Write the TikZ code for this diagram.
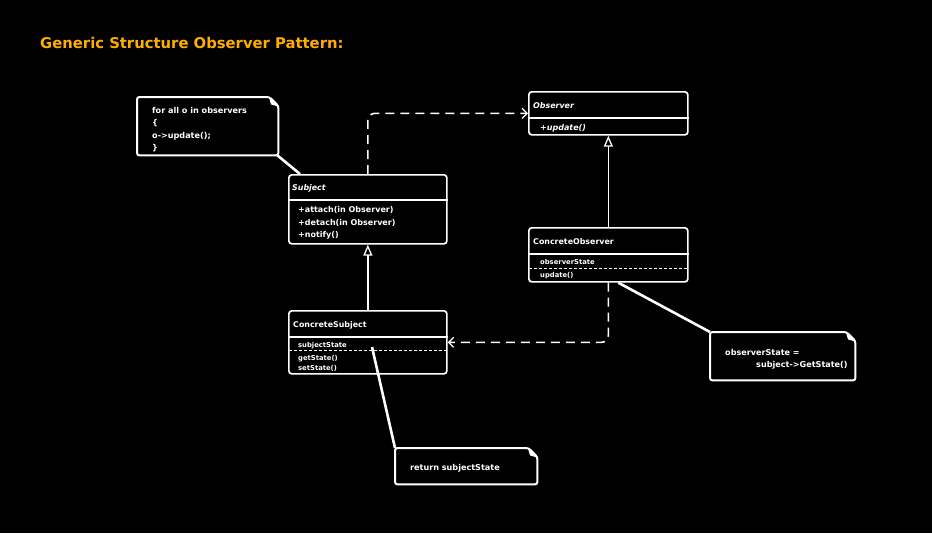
\documentclass[tikz,border=0pt]{standalone}
\usepackage{fontspec}
\setmainfont{DejaVu Sans}
\usetikzlibrary{calc,arrows.meta}
\definecolor{titleorange}{RGB}{255,174,0}
\newcommand\dognote[1]{%
  \draw[notepath] (#1.south west) -- (#1.north west) -- ($(#1.north east)+(-9,0)$) -- ($(#1.north east)+(0,9)$) -- (#1.south east) -- cycle;
  \draw[white,line width=1pt,fill=white,line join=round] ($(#1.north east)+(-9,0)$) -- ($(#1.north east)+(-7,7)$) -- ($(#1.north east)+(0,9)$);}
\begin{document}
\begin{tikzpicture}[x=1pt,y=-1pt,
  umlbox/.style={draw=white, line width=1.7pt, rounded corners=3pt, inner sep=0, anchor=north west},
  notebox/.style={inner sep=0, anchor=north west},
  notepath/.style={draw=white, line width=2pt, rounded corners=2.5pt},
  divider/.style={draw=white, line width=1.5pt},
  sepdash/.style={draw=white, line width=1pt, dash pattern=on 3pt off 2pt},
  lbl/.style={text=white, font=\bfseries\fontsize{8}{10}\selectfont, anchor=base west, inner sep=0},
  notelbl/.style={text=white, font=\bfseries\fontsize{8.1}{10}\selectfont, anchor=base west, inner sep=0},
  hdr/.style={text=white, font=\bfseries\fontsize{7.9}{10}\selectfont, anchor=base west, inner sep=0},
  smalllbl/.style={text=white, font=\bfseries\fontsize{6.8}{9}\selectfont, anchor=base west, inner sep=0},
  dep/.style={draw=white, line width=1.6pt, dash pattern=on 9pt off 6pt, rounded corners=7pt,
    -{Straight Barb[length=5pt,width=10pt,line width=1.3pt]}},
  inherit/.style={draw=white, line width=1.5pt, -{Triangle[open,length=11pt,width=9pt,fill=black,line width=1.3pt]}},
  noteline/.style={draw=white, line width=2.6pt}
]
\fill[black] (0,0) rectangle (932,533);
\useasboundingbox (0,0) rectangle (932,533);

% title
\node[text=titleorange, font=\bfseries\fontsize{14.8}{17}\selectfont, anchor=base west, inner sep=0] (title) at (40,48) {Generic Structure Observer Pattern:};

% note 1
\node[notebox, minimum width=141, minimum height=58] (note1) at (137,97) {};
\dognote{note1}
\node[notelbl] (n1a) at (152,113) {for all o in observers};
\node[notelbl] (n1b) at (152,125) {\{};
\node[notelbl] (n1c) at (152,138) {o->update();};
\node[notelbl] (n1d) at (152,150) {\}};

% Subject
\node[umlbox, minimum width=158, minimum height=69] (subject) at (288,174) {};
\draw[divider] ($(subject.north west)+(0,26)$) -- ($(subject.north east)+(0,26)$);
\node[hdr] (subjname) at (292,190) {\itshape Subject};
\node[lbl] (s1) at (298,212) {+attach(in Observer)};
\node[lbl] (s2) at (298,225) {+detach(in Observer)};
\node[lbl] (s3) at (298,237) {+notify()};

% Observer
\node[umlbox, minimum width=159, minimum height=43] (observer) at (528,91) {};
\draw[divider] ($(observer.north west)+(0,27)$) -- ($(observer.north east)+(0,27)$);
\node[hdr] (obsname) at (533,108) {\itshape Observer};
\node[lbl] (o1) at (540,130) {\itshape +update()};

% ConcreteObserver
\node[umlbox, minimum width=159, minimum height=54] (cobs) at (528,227) {};
\draw[divider] ($(cobs.north west)+(0,27)$) -- ($(cobs.north east)+(0,27)$);
\draw[sepdash] ($(cobs.north west)+(1,41)$) -- ($(cobs.north east)+(-1,41)$);
\node[hdr] (cobsname) at (533,244) {ConcreteObserver};
\node[smalllbl] (co1) at (540,264) {observerState};
\node[smalllbl] (co2) at (540,277) {update()};

% ConcreteSubject
\node[umlbox, minimum width=158, minimum height=63] (csub) at (288,310) {};
\draw[divider] ($(csub.north west)+(0,27)$) -- ($(csub.north east)+(0,27)$);
\draw[sepdash] ($(csub.north west)+(1,40)$) -- ($(csub.north east)+(-1,40)$);
\node[hdr] (csubname) at (293,327) {ConcreteSubject};
\node[smalllbl] (cs1) at (298,347) {subjectState};
\node[smalllbl] (cs2) at (298,360) {getState()};
\node[smalllbl] (cs3) at (298,370) {setState()};

% note 2
\node[notebox, minimum width=145, minimum height=48] (note2) at (710,332) {};
\dognote{note2}
\node[notelbl] (n2a) at (725,355) {observerState =};
\node[notelbl] (n2b) at (756,367) {subject->GetState()};

% note 3
\node[notebox, minimum width=142, minimum height=36] (note3) at (395,448) {};
\dognote{note3}
\node[notelbl] (n3a) at (410,470) {return subjectState};

% connectors
\draw[dep] (subject.north) |- (observer.west);
\draw[dep] (cobs.south) |- (csub.east);
\draw[inherit] (cobs.north) -- (observer.south);
\draw[inherit] (csub.north) -- (subject.south);
\draw[noteline] ($(note1.south east)+(-1,0)$) -- ($(subject.north west)+(12,0)$);
\draw[noteline] ($(cobs.south)+(10,0)$) -- (note2.north west);
\draw[noteline] ($(csub.north west)+(84,37)$) -- (note3.north west);
\end{tikzpicture}
\end{document}
